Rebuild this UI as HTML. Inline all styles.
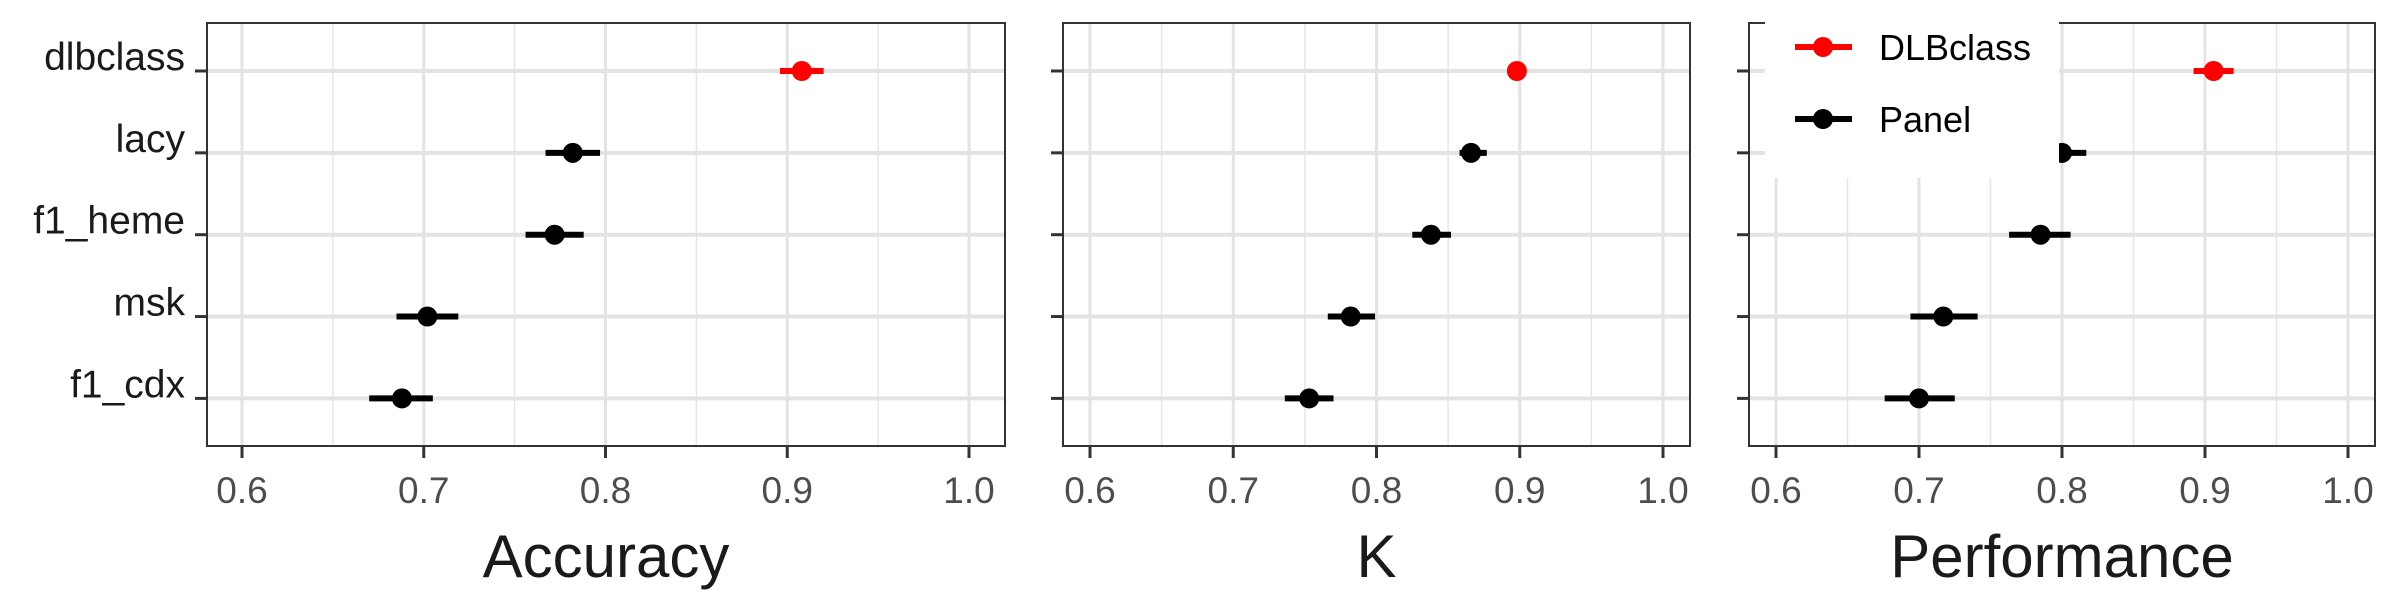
<!DOCTYPE html>
<html><head><meta charset="utf-8"><style>
html,body{margin:0;padding:0;background:#fff;}
svg{display:block;font-family:"Liberation Sans",Arial,sans-serif;}
</style></head><body>
<svg id="chart" width="2400" height="600" viewBox="0 0 2400 600" xmlns="http://www.w3.org/2000/svg"></svg>
<script>
const categories = ["dlbclass","lacy","f1_heme","msk","f1_cdx"];
const groups = ["DLBclass","Panel","Panel","Panel","Panel"];
const accuracyMean = [0.908,0.782,0.772,0.702,0.688];
const accuracyLow  = [0.896,0.767,0.756,0.685,0.670];
const accuracyHigh = [0.920,0.797,0.788,0.719,0.705];
const kMean = [0.898,0.866,0.838,0.782,0.753];
const kLow  = [0.896,0.858,0.825,0.766,0.736];
const kHigh = [0.900,0.877,0.852,0.799,0.770];
const perfMean = [0.906,0.800,0.785,0.717,0.700];
const perfLow  = [0.892,0.783,0.763,0.694,0.676];
const perfHigh = [0.920,0.817,0.806,0.741,0.725];
const xTicks = [0.6,0.7,0.8,0.9,1.0];
const xTickLabels = ["0.6","0.7","0.8","0.9","1.0"];
const xMinor = [0.65,0.75,0.85,0.95];
const axisTitles = ["Accuracy","K","Performance"];
const legendLabels = ["DLBclass","Panel"];

const svg = document.getElementById('chart');
const NS = "http://www.w3.org/2000/svg";
function mk(tag, attrs, parent){const e=document.createElementNS(NS,tag);for(const k in attrs)e.setAttribute(k,attrs[k]);(parent||svg).appendChild(e);return e;}
const colorOf = g => g==="DLBclass" ? "#ff0000" : "#000000";

const panels = [
  {left:207,right:1005,x06:242,x10:969,mean:accuracyMean,low:accuracyLow,high:accuracyHigh,labels:true,name:"accuracy"},
  {left:1063,right:1690,x06:1090,x10:1663,mean:kMean,low:kLow,high:kHigh,labels:false,name:"k"},
  {left:1749,right:2375,x06:1776,x10:2348,mean:perfMean,low:perfLow,high:perfHigh,labels:false,name:"performance"}
];
const plotTop=23,plotBottom=446,row0=71,rowStep=81.85;
const yScale = i => row0 + i*rowStep;

panels.forEach((p,pi)=>{
  const xs = v => p.x06 + (v-0.6)/0.4*(p.x10-p.x06);
  const g = mk('g',{});
  
  
  xMinor.forEach(v=>{const l=mk('line',{x1:xs(v),x2:xs(v),y1:plotTop,y2:plotBottom,stroke:'#e6e6e6','stroke-width':1.5},g);
    
    });
  xTicks.forEach(v=>{const l=mk('line',{x1:xs(v),x2:xs(v),y1:plotTop,y2:plotBottom,stroke:'#e3e3e3','stroke-width':3},g);
    
    });
  categories.forEach((c,i)=>{const l=mk('line',{x1:p.left,x2:p.right,y1:yScale(i),y2:yScale(i),stroke:'#e3e3e3','stroke-width':4},g);
    
    });
  const border=mk('rect',{x:p.left,y:plotTop,width:p.right-p.left,height:plotBottom-plotTop,fill:'none',stroke:'#333','stroke-width':2},g);
  
  
  categories.forEach((c,i)=>{
    const t=mk('line',{x1:p.left-12,x2:p.left,y1:yScale(i),y2:yScale(i),stroke:'#333','stroke-width':3},g);
    
    
    if(p.labels){const tx=mk('text',{x:185,y:yScale(i)-1,'text-anchor':'end','font-size':39,fill:'#1a1a1a'},g);tx.textContent=c;
      
      }
  });
  xTicks.forEach((v,i)=>{
    const t=mk('line',{x1:xs(v),x2:xs(v),y1:plotBottom,y2:plotBottom+12,stroke:'#333','stroke-width':3},g);
    
    
    const tx=mk('text',{x:xs(v),y:503,'text-anchor':'middle','font-size':37,fill:'#4d4d4d'},g);tx.textContent=xTickLabels[i];
    
    
  });
  const at=mk('text',{x:(p.left+p.right)/2,y:577,'text-anchor':'middle','font-size':60,fill:'#1a1a1a'},g);at.textContent=axisTitles[pi];
  
  
  categories.forEach((c,i)=>{
    const col=colorOf(groups[i]);
    const eb=mk('line',{x1:xs(p.low[i]),x2:xs(p.high[i]),y1:yScale(i),y2:yScale(i),stroke:col,'stroke-width':6},g);
    
    
    const pt=mk('circle',{cx:xs(p.mean[i]),cy:yScale(i),r:10,fill:col},g);
    
    
  });
});

const lg=mk('g',{});


const bg=mk('rect',{x:1765,y:21,width:294,height:157,fill:'#fff'},lg);


legendLabels.forEach((lab,i)=>{
  const y=47+i*72, col=colorOf(lab);
  const l=mk('line',{x1:1795,x2:1852,y1:y,y2:y,stroke:col,'stroke-width':6},lg);
  
  
  const c=mk('circle',{cx:1823,cy:y,r:10,fill:col},lg);
  
  
  const t=mk('text',{x:1879,y:y+13,'font-size':36,fill:'#000'},lg);t.textContent=lab;
  
  
});
</script>
</body></html>
